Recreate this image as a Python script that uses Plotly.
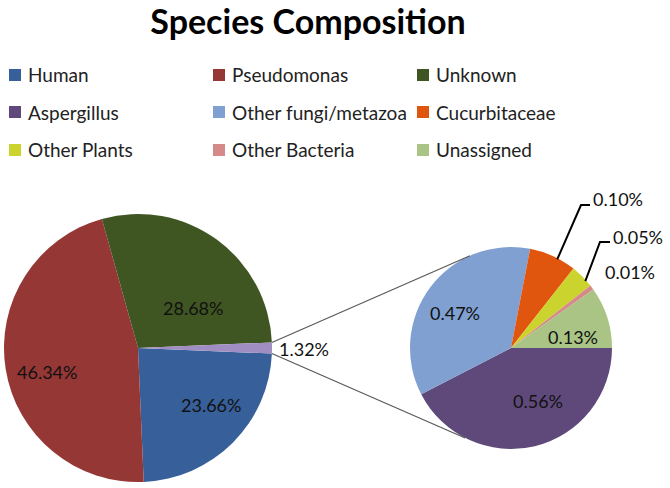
import math
import plotly.graph_objects as go

# ---------------- data ----------------
main_labels = ["Human", "Pseudomonas", "Unknown"]
main_values = [23.66, 46.34, 28.68]
sub_labels = ["Aspergillus", "Other fungi/metazoa", "Cucurbitaceae",
              "Other Plants", "Other Bacteria", "Unassigned"]
sub_values = [0.56, 0.47, 0.10, 0.05, 0.01, 0.13]
other_label = "Other"
other_value = round(sum(sub_values), 2)

legend_order = ["Human", "Pseudomonas", "Unknown",
                "Aspergillus", "Other fungi/metazoa", "Cucurbitaceae",
                "Other Plants", "Other Bacteria", "Unassigned"]

colors = {
    "Human": "#375F9A",
    "Pseudomonas": "#953735",
    "Unknown": "#3F5522",
    "Other": "#A08EC2",
    "Aspergillus": "#5F497A",
    "Other fungi/metazoa": "#7FA0D0",
    "Cucurbitaceae": "#E0560E",
    "Other Plants": "#CBD42E",
    "Other Bacteria": "#D58A8A",
    "Unassigned": "#A9C485",
}

# ---------------- layout geometry (pixels) ----------------
W, H = 670, 488
FONT = "Lato, Calibri, 'Open Sans', sans-serif"
LABEL_SIZE = 18

big_c, big_r = (138, 348), 134
small_c, small_r = (511, 348), 101


def px(x, y):
    return x / W, 1 - y / H


def dom(c, r):
    x0, y1 = px(c[0] - r, c[1] - r)
    x1, y0 = px(c[0] + r, c[1] + r)
    return dict(x=[x0, x1], y=[y0, y1])


def on_circle(c, r, ang):
    a = math.radians(ang)
    return c[0] + r * math.sin(a), c[1] - r * math.cos(a)


def mid_angles(values, rotation):
    tot = sum(values)
    cum, out = 0, []
    for v in values:
        s = rotation + 360 * cum / tot
        cum += v
        e = rotation + 360 * cum / tot
        out.append((s + e) / 2)
    return out


big_labels = main_labels + [other_label]
big_values = main_values + [other_value]
big_total = sum(big_values)
other_span = 360 * other_value / big_total
big_rotation = 90 + other_span / 2      # "Other" slice centred at 3 o'clock
sub_rotation = 90

fig = go.Figure()

fig.add_trace(go.Pie(
    labels=big_labels, values=big_values, sort=False, direction="clockwise",
    rotation=big_rotation, domain=dom(big_c, big_r),
    marker=dict(colors=[colors[l] for l in big_labels], line=dict(width=0)),
    textinfo="none", showlegend=False, hoverinfo="label+value",
))

fig.add_trace(go.Pie(
    labels=sub_labels, values=sub_values, sort=False, direction="clockwise",
    rotation=sub_rotation, domain=dom(small_c, small_r),
    marker=dict(colors=[colors[l] for l in sub_labels], line=dict(width=0)),
    textinfo="none", showlegend=False, hoverinfo="label+value",
))

shapes = []
annotations = []


def label(x, y, txt, anchor="center", size=LABEL_SIZE, color="#111111"):
    ax, ay = px(x, y)
    annotations.append(dict(x=ax, y=ay, xref="paper", yref="paper", xanchor=anchor,
                            yanchor="middle", text=txt, showarrow=False,
                            font=dict(family=FONT, size=size, color=color)))


# inside data labels: (angle offset from slice bisector, radius fraction)
big_mid = mid_angles(big_values, big_rotation)
big_lab_pos = {0: (-7, 0.69), 1: (-6, 0.70), 2: (18, 0.51)}
for i, (da, rf) in big_lab_pos.items():
    x, y = on_circle(big_c, big_r * rf, big_mid[i] + da)
    label(x, y, f"{big_values[i]:.2f}%")

sub_mid = mid_angles(sub_values, sub_rotation)
sub_lab_pos = {0: (-13, 0.59), 1: (-5, 0.65), 5: (8, 0.62)}
for i, (da, rf) in sub_lab_pos.items():
    x, y = on_circle(small_c, small_r * rf, sub_mid[i] + da)
    label(x, y, f"{sub_values[i]:.2f}%")

# connector lines between the "Other" slice and the secondary pie
top_start = on_circle(big_c, big_r, 90 - other_span / 2)
bot_start = on_circle(big_c, big_r, 90 + other_span / 2)
top_end = on_circle(small_c, small_r, 336)
bot_end = on_circle(small_c, small_r, 207)
for s, e in [(top_start, top_end), (bot_start, bot_end)]:
    x0, y0 = px(*s)
    x1, y1 = px(*e)
    shapes.append(dict(type="line", xref="paper", yref="paper",
                       x0=x0, y0=y0, x1=x1, y1=y1,
                       line=dict(color="#595959", width=1.2)))

# "Other" label, just outside the slice
label(big_c[0] + big_r + 5, big_c[1] + 1, f"{other_value:.2f}%", anchor="left")

# outside labels of the small slices (with elbow leader lines)
outside = {2: dict(elbow=(581, 205), knee=(590, 205), text=(591, 199)),
           3: dict(elbow=(600, 242), knee=(610, 242), text=(611, 237)),
           4: dict(elbow=None, knee=None, text=(603, 272))}
for i, o in outside.items():
    if o["elbow"] is not None:
        sx, sy = on_circle(small_c, small_r - 1, sub_mid[i] + 3)
        pts = [px(sx, sy), px(*o["elbow"]), px(*o["knee"])]
        path = "M {} {} L {} {} L {} {}".format(*[c for p in pts for c in p])
        shapes.append(dict(type="path", xref="paper", yref="paper", path=path,
                           line=dict(color="#000000", width=2)))
    label(o["text"][0], o["text"][1], f"{sub_values[i]:.2f}%", anchor="left")

# legend (3 x 3 grid)
col_x = [9, 213, 417]
row_y = [75, 112, 150]
sq = 12
for k, name in enumerate(legend_order):
    cx = col_x[k % 3]
    cy = row_y[k // 3]
    x0, y0 = px(cx, cy + sq / 2)
    x1, y1 = px(cx + sq, cy - sq / 2)
    shapes.append(dict(type="rect", xref="paper", yref="paper",
                       x0=x0, y0=y0, x1=x1, y1=y1,
                       fillcolor=colors[name], line=dict(width=0)))
    label(cx + sq + 5, cy, name, anchor="left", size=19, color="#222222")

fig.update_layout(
    width=W, height=H,
    margin=dict(l=0, r=0, t=0, b=0),
    paper_bgcolor="white", plot_bgcolor="white",
    title=dict(text="<b>Species Composition</b>", x=308 / W, xanchor="center",
               y=1 - 22 / H, yanchor="middle",
               font=dict(family=FONT, size=34, color="#000000")),
    shapes=shapes, annotations=annotations,
)

fig.write_html("out.html",
               config={"displayModeBar": False},
               post_script="document.body.style.margin='0px';"
                           "document.body.style.overflow='hidden';")
